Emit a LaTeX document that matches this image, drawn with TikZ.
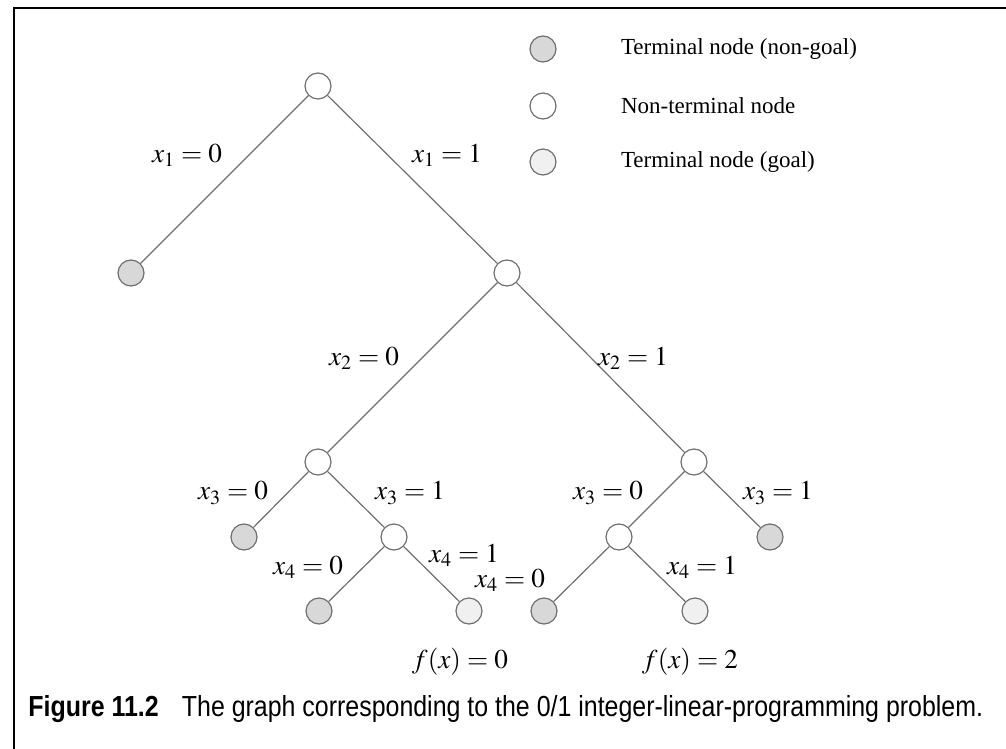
\documentclass[tikz,border=0pt]{standalone}
\usepackage{mathptmx}
\usepackage{fontspec}
\setmainfont{Liberation Serif}
\newfontfamily\capfont[FakeStretch=0.86]{Liberation Sans}
\definecolor{edgeGray}{HTML}{707070}
\definecolor{leafGray}{HTML}{D8D8D8}
\definecolor{goalGray}{HTML}{F0F0F0}
\usetikzlibrary{positioning}

\begin{document}
\begin{tikzpicture}[
    x=0.5pt, y=-0.5pt,
    state/.style={circle, draw=edgeGray, line width=0.6pt, fill=#1,
                  minimum size=13pt, inner sep=0pt},
    state/.default=white,
    branch/.style={draw=edgeGray, line width=0.6pt},
    lbl/.style={font=\fontsize{11.5}{13}\selectfont, inner sep=0pt},
    eq/.style={font=\fontsize{13.6}{15}\selectfont, inner sep=0pt}
  ]
    \useasboundingbox (0,0) rectangle (1006,749);
    % frame
    \draw[line width=1.4pt] (1006,8) -- (14,8) -- (14,749);

    % legend
    \node[state=leafGray] (k1) at (543,49) {};
    \node[state] (k2) at (543,106) {};
    \node[state=goalGray] (k3) at (543,162) {};
    \node[lbl, right=32pt of k1] (t1) {Terminal node (non-goal)};
    \node[lbl, right=32pt of k2] (t2) {Non-terminal node};
    \node[lbl, right=32pt of k3] (t3) {Terminal node (goal)};

    % the tree
    \node[state] (r) at (318,86) {};
    \node[state=leafGray] (a) at (131,273) {};
    \node[state] (b) at (507,273) {};
    \node[state] (ba) at (318,462) {};
    \node[state] (bb) at (694,462) {};
    \node[state=leafGray] (baa) at (244,537) {};
    \node[state] (bab) at (394,537) {};
    \node[state] (bba) at (619,537) {};
    \node[state=leafGray] (bbb) at (770,537) {};
    \node[state=leafGray] (baba) at (319,611) {};
    \node[state=goalGray] (babb) at (469,611) {};
    \node[state=leafGray] (bbaa) at (544,611) {};
    \node[state=goalGray] (bbab) at (695,611) {};

    \draw[branch] (r) -- (a);
    \draw[branch] (r) -- (b);
    \draw[branch] (b) -- (ba);
    \draw[branch] (b) -- (bb);
    \draw[branch] (ba) -- (baa);
    \draw[branch] (ba) -- (bab);
    \draw[branch] (bb) -- (bba);
    \draw[branch] (bb) -- (bbb);
    \draw[branch] (bab) -- (baba);
    \draw[branch] (bab) -- (babb);
    \draw[branch] (bba) -- (bbaa);
    \draw[branch] (bba) -- (bbab);

    % branch labels
    \node[eq] (l1a) at (187,155) {$x_1 = 0$};
    \node[eq] (l1b) at (447,155) {$x_1 = 1$};
    \node[eq] (l2a) at (364,358) {$x_2 = 0$};
    \node[eq] (l2b) at (633,358) {$x_2 = 1$};
    \node[eq] (l3a) at (233,493) {$x_3 = 0$};
    \node[eq] (l3b) at (410,493) {$x_3 = 1$};
    \node[eq] (l3c) at (608,493) {$x_3 = 0$};
    \node[eq] (l3d) at (778,493) {$x_3 = 1$};
    \node[eq] (l4a) at (308,567) {$x_4 = 0$};
    \node[eq] (l4b) at (464,555) {$x_4 = 1$};
    \node[eq] (l4c) at (510,580) {$x_4 = 0$};
    \node[eq] (l4d) at (702,567) {$x_4 = 1$};
    \node[eq] (f1) at (460,662) {$f(x) = 0$};
    \node[eq] (f2) at (690,662) {$f(x) = 2$};

    % caption
    \node[anchor=west, inner sep=0pt, font=\capfont\fontsize{14.5}{16}\selectfont]
      (cap) at (28,709) {\textbf{Figure 11.2}\hspace{0.8em}The graph corresponding to the 0/1 integer-linear-programming problem.};
  \end{tikzpicture}
\end{document}
